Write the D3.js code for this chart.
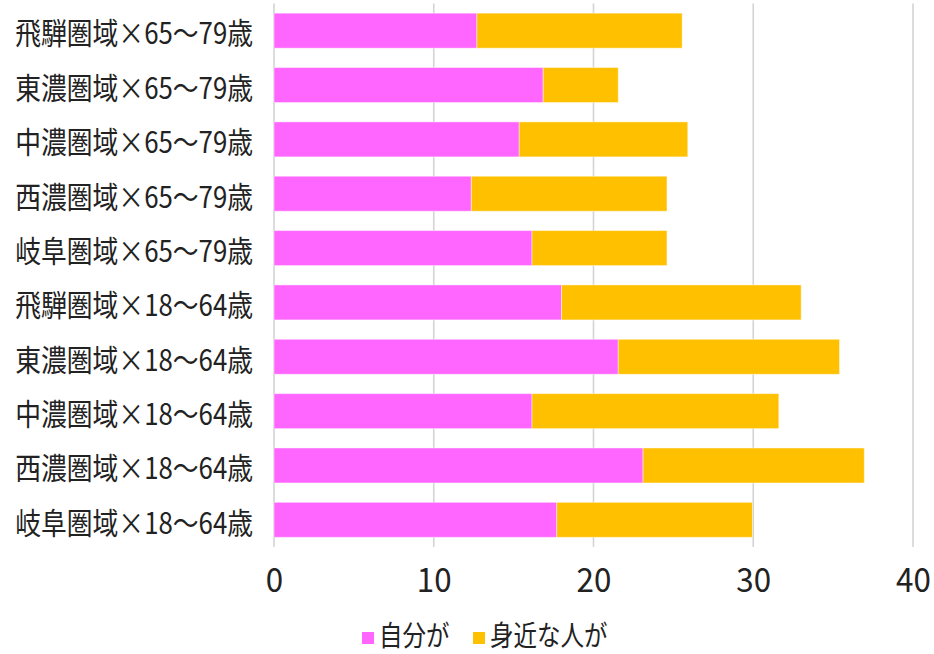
<!DOCTYPE html>
<html>
<head>
<meta charset="utf-8">
<script src="https://cdn.jsdelivr.net/npm/d3@7"></script>
<style>
  body { margin: 0; background: #fff; }
  #chart text { font-family: "Noto Sans CJK JP", "Noto Sans", sans-serif; fill: #222; }
</style>
</head>
<body>
<div id="chart"></div>
<script>
// categories, top to bottom
var categories = [
  "飛騨圏域×65～79歳",
  "東濃圏域×65～79歳",
  "中濃圏域×65～79歳",
  "西濃圏域×65～79歳",
  "岐阜圏域×65～79歳",
  "飛騨圏域×18～64歳",
  "東濃圏域×18～64歳",
  "中濃圏域×18～64歳",
  "西濃圏域×18～64歳",
  "岐阜圏域×18～64歳"
];
var seriesNames = ["自分が", "身近な人が"];
var selfValues = [12.7, 16.85, 15.35, 12.35, 16.15, 18.0, 21.55, 16.15, 23.1, 17.7];
var closeValues = [12.85, 4.7, 10.55, 12.25, 8.45, 15.0, 13.85, 15.45, 13.85, 12.25];
var xTicks = [0, 10, 20, 30, 40];
var colors = ["#FF66FF", "#FFC000"];

var width = 934,
    height = 654,
    margin = { top: 3.5, right: 21, bottom: 107, left: 274 };

var svg = d3.select("#chart").append("svg")
    .attr("width", width)
    .attr("height", height);

var rows = categories.map(function(c, i) {
  return { name: c, self: selfValues[i], close: closeValues[i] };
});

var x = d3.scaleLinear()
    .domain([0, 40])
    .range([margin.left, width - margin.right]);

var y = d3.scaleBand()
    .domain(categories)
    .range([margin.top, height - margin.bottom])
    .paddingInner(0.356)
    .paddingOuter(0.178);

// vertical gridlines
svg.append("g")
  .selectAll("line")
  .data(xTicks)
  .enter().append("line")
    .attr("x1", function(d) { return x(d); })
    .attr("x2", function(d) { return x(d); })
    .attr("y1", margin.top)
    .attr("y2", height - margin.bottom)
    .attr("stroke", "#d4d4d4")
    .attr("stroke-width", 1.6);

// stacked bars
var stack = d3.stack().keys(["self", "close"]);
var layers = stack(rows);

svg.append("g")
  .selectAll("g")
  .data(layers)
  .enter().append("g")
    .attr("fill", function(d, i) { return colors[i]; })
  .selectAll("rect")
  .data(function(d) { return d; })
  .enter().append("rect")
    .attr("x", function(d) { return x(d[0]); })
    .attr("width", function(d) { return x(d[1]) - x(d[0]); })
    .attr("y", function(d) { return y(d.data.name); })
    .attr("height", y.bandwidth())
    .attr("stroke", "#fff")
    .attr("stroke-opacity", 0.45)
    .attr("stroke-width", 1);

// category labels (font is narrow in the original, so squeeze horizontally)
var catScale = 0.86;
svg.append("g")
  .selectAll("text")
  .data(categories)
  .enter().append("text")
    .attr("transform", function(d) {
      return "translate(" + (margin.left - 21) + "," + (y(d) + y.bandwidth() / 2 + 3) + ") scale(" + catScale + ",1)";
    })
    .attr("text-anchor", "end")
    .attr("dy", "0.36em")
    .style("font-size", "30px")
    .text(function(d) { return d; });

// x axis labels
var xAxis = d3.axisBottom(x)
    .tickValues(xTicks)
    .tickSize(0)
    .tickPadding(0);

var axisG = svg.append("g")
    .attr("transform", "translate(0," + (height - margin.bottom) + ")")
    .call(xAxis);
axisG.select(".domain").remove();
axisG.selectAll("text")
    .attr("x", 0)
    .attr("y", 0)
    .attr("dy", 0)
    .attr("transform", "translate(0,45) scale(0.95,1)")
    .style("font-size", "33px")
    .style("font-family", "\"Noto Sans CJK JP\", sans-serif")
    .attr("fill", "#222");

// legend
var legend = svg.append("g")
    .attr("transform", "translate(362,636)");

var legendX = [0, 111];
var item = legend.selectAll("g")
  .data(seriesNames)
  .enter().append("g")
    .attr("transform", function(d, i) { return "translate(" + legendX[i] + ",0)"; });

item.append("rect")
    .attr("x", 0)
    .attr("y", -4)
    .attr("width", 12)
    .attr("height", 12)
    .attr("fill", function(d, i) { return colors[i]; });

item.append("text")
    .attr("transform", "translate(17,0) scale(0.84,1)")
    .attr("dy", "0.36em")
    .style("font-size", "28px")
    .text(function(d) { return d; });
</script>
</body>
</html>
